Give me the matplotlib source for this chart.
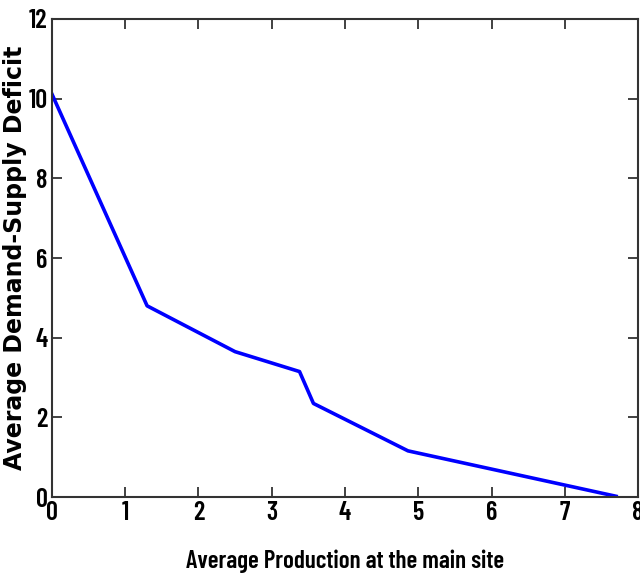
import matplotlib
matplotlib.use("Agg")
import matplotlib.pyplot as plt

# values
production = [0.0, 1.30, 2.50, 3.38, 3.57, 4.86, 7.70]
deficit = [10.12, 4.80, 3.65, 3.15, 2.35, 1.16, 0.02]
xticks = [0, 1, 2, 3, 4, 5, 6, 7, 8]
yticks = [0, 2, 4, 6, 8, 10, 12]

narrow = ['Barlow Condensed', 'DejaVu Sans']

fig = plt.figure(figsize=(6.4, 5.74), dpi=100)
ax = fig.add_axes([0.081, 0.134, 0.916, 0.833])

ax.plot(production, deficit, color='#0000ff', linewidth=2.6)

ax.set_xlim(0, 8)
ax.set_ylim(0, 12)
ax.set_xticks(xticks)
ax.set_yticks(yticks)
ax.tick_params(direction='in', length=7, width=1.3, color='#333333',
               top=True, right=True, labelsize=19, pad=3)
for lab in ax.get_xticklabels() + ax.get_yticklabels():
    lab.set_family(narrow)
    lab.set_fontweight(600)
for s in ax.spines.values():
    s.set_linewidth(1.5)
    s.set_color('#333333')

ax.set_xlabel("Average Production at the main site", family=narrow,
              fontweight=600, fontsize=18)
ax.xaxis.set_label_coords(0.5, -0.11)
ax.set_ylabel("Average Demand-Supply Deficit", family=['DejaVu Sans'],
              fontweight='bold', fontsize=17)
ax.yaxis.set_label_coords(-0.042, 0.50)

fig.savefig("out.png", dpi=100)
